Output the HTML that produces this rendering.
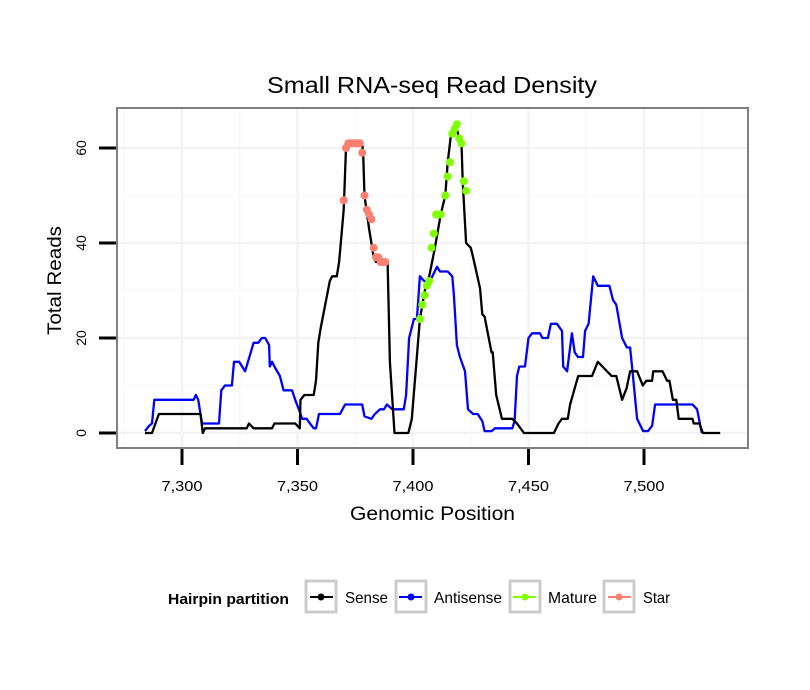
<!DOCTYPE html>
<html><head><meta charset="utf-8"><style>
body{margin:0;background:#fff}
svg{display:block;font-family:"Liberation Sans",sans-serif}
</style></head><body>
<svg id="chart" width="810" height="690" viewBox="0 0 810 690">
<rect width="810" height="690" fill="#fff"/>
<text x="267" y="93" font-size="23" textLength="330" lengthAdjust="spacingAndGlyphs">Small RNA-seq Read Density</text>
<g id="grid"></g>
<g id="series"></g>
<rect x="117" y="108" width="631" height="340" fill="none" stroke="#808080" stroke-width="2"/>
<g id="axes"></g>
<text x="350" y="520" font-size="19" textLength="165" lengthAdjust="spacingAndGlyphs">Genomic Position</text>
<text transform="translate(61,335) rotate(-90)" font-size="19" textLength="109" lengthAdjust="spacingAndGlyphs">Total Reads</text>
<g>
<text x="168" y="604" font-size="15" font-weight="bold" textLength="121" lengthAdjust="spacingAndGlyphs">Hairpin partition</text>
<g>
<rect x="306" y="581" width="30" height="31" fill="#fff" stroke="#ccc" stroke-width="3"/>
<line x1="310" y1="597" x2="333" y2="597" stroke="#000" stroke-width="2"/><circle cx="321" cy="597" r="3.5" fill="#000"/>
<text x="345" y="603" font-size="16" textLength="43" lengthAdjust="spacingAndGlyphs">Sense</text></g>
<g>
<rect x="396" y="581" width="30" height="31" fill="#fff" stroke="#ccc" stroke-width="3"/>
<line x1="399" y1="597" x2="422" y2="597" stroke="#00f" stroke-width="2"/><circle cx="411" cy="597" r="3.5" fill="#00f"/>
<text x="434" y="603" font-size="16" textLength="68" lengthAdjust="spacingAndGlyphs">Antisense</text></g>
<g>
<rect x="510" y="581" width="30" height="31" fill="#fff" stroke="#ccc" stroke-width="3"/>
<line x1="513" y1="597" x2="536" y2="597" stroke="#7fff00" stroke-width="2"/><circle cx="525" cy="597" r="3.5" fill="#7fff00"/>
<text x="548" y="603" font-size="16" textLength="49" lengthAdjust="spacingAndGlyphs">Mature</text></g>
<g>
<rect x="604" y="581" width="30" height="31" fill="#fff" stroke="#ccc" stroke-width="3"/>
<line x1="608" y1="597" x2="631" y2="597" stroke="#fa8072" stroke-width="2"/><circle cx="619" cy="597" r="3.5" fill="#fa8072"/>
<text x="643" y="603" font-size="16" textLength="27" lengthAdjust="spacingAndGlyphs">Star</text></g>
</g>
</svg>
<script>
const xTicks=[7300,7350,7400,7450,7500];
const xTickLabels=["7,300","7,350","7,400","7,450","7,500"];
const xMinor=[7275,7325,7375,7425,7475,7525];
const yTicks=[0,20,40,60];
const yMinor=[10,30,50];
const senseX=[7284,7287,7290,7308,7309,7310,7328,7329,7331,7339,7340,7349,7351,7351.3,7353,7357,7358,7359,7360,7362,7364,7365,7367,7368,7370,7371,7371.5,7378,7378.5,7379,7381,7383,7384,7389,7390,7392,7398,7399.5,7401,7403,7405.5,7407,7409.5,7412,7414,7415,7416.5,7418.5,7420,7421,7421.5,7423,7425,7426,7429,7430,7431,7434,7434.5,7436,7438,7438.5,7443,7445,7448,7461,7463,7464.5,7467,7468,7471.5,7477.5,7480,7482,7484,7486,7488,7490.5,7492.5,7494,7497,7499.5,7501,7503.5,7504,7508,7510,7511,7512.5,7514,7515,7521,7521.5,7524,7525.5,7533];
const senseY=[0,0,4,4,0,1,1,2,1,1,2,2,1,7,8,8,11,19,22,27,32,33,33,36,47,60,61,61,58,50,43,37,36,36,15,0,0,3,12,24,31,33,39,46,50,57,63,65,62,61,53,40,39,37,30.5,25,24.5,17,17,8,4,3,3,2,0,0,2,3,3,6,12,12,15,14,13,12,12,7,9.5,13,13,10,11,11,13,13,11,11,7,7,3,3,2,2,0,0];
const antiX=[7284,7285.7,7287,7288,7305,7306,7307,7308.7,7316,7317,7318.6,7321.6,7322.5,7324.7,7327.3,7331,7333,7334.6,7336,7337.7,7338,7339,7340,7342.4,7344,7347.6,7349,7350.6,7352,7354,7355.4,7357,7358,7359.3,7368.4,7370.6,7378,7379,7382,7383.5,7385.7,7387.4,7388.7,7391,7396,7397,7398.3,7400.4,7401.7,7403,7404.8,7407.4,7410.4,7411.7,7415,7417,7417.7,7419,7420.3,7422.5,7423.8,7426,7428,7430,7431,7434,7435.5,7443,7444,7445,7446,7448.5,7450,7451.5,7455,7456,7458.4,7459.7,7462.3,7464.5,7465,7466.7,7468.8,7470,7471.4,7473.6,7474.5,7476,7478,7480,7485,7486.6,7488,7490.5,7492.6,7494,7495,7497,7499.6,7501.7,7503.5,7504.8,7521,7523,7525];
const antiY=[0.4,1.5,2,7,7,8,7,2,2,9,10,10,15,15,13,19,19,20,20,18.5,14,15,14,12,9,9,7,5,3,3,2,1,1,4,4,6,6,3.5,3,4,5,5,6,5,5,8,20,24,24,33,32,32,35,34,34,33,29,18.5,16,13,5,4,4,2.5,0.4,0.4,1,1,2.5,12,14,14,20,21,21,20,20,23,23,21.5,14,13,21,17,16,16,21.5,23,33,31,31,28,27,20,18,18,13,3,0.4,0.4,1.5,6,6,5,0];
const starX=[7370,7371,7372,7373,7374,7375,7376,7377,7378,7379,7380,7381,7382,7383,7384,7385,7386,7387,7388];
const starY=[49,60,61,61,61,61,61,61,59,50,47,46,45,39,37,37,36,36,36];
const matureX=[7403,7404,7405,7406,7407,7408,7409,7410,7411,7412,7414,7415,7416,7417,7418,7419,7420,7421,7422,7423];
const matureY=[24,27,29,31,32,39,42,46,46,46,50,54,57,63,64,65,62,61,53,51];

const NS="http://www.w3.org/2000/svg";
function sx(v){return 182+(v-7300)*2.31;}
function sy(v){return 433-v*4.75;}
function mk(tag,attrs,parent){const e=document.createElementNS(NS,tag);for(const k in attrs)e.setAttribute(k,attrs[k]);parent.appendChild(e);return e;}
const grid=document.getElementById('grid'),ser=document.getElementById('series'),axes=document.getElementById('axes');
xMinor.forEach(v=>{const l=mk('line',{x1:sx(v),x2:sx(v),y1:109,y2:447,stroke:'#fafafa','stroke-width':1.5},grid);

});
yMinor.forEach(v=>{const l=mk('line',{x1:118,x2:747,y1:sy(v),y2:sy(v),stroke:'#fafafa','stroke-width':1.5},grid);

});
xTicks.forEach((v,i)=>{const l=mk('line',{x1:sx(v),x2:sx(v),y1:109,y2:447,stroke:'#f3f3f3','stroke-width':2.5},grid);


const t=mk('line',{x1:sx(v),x2:sx(v),y1:449,y2:465,stroke:'#000','stroke-width':3},axes);


const tx=mk('text',{x:sx(v)-20.5,y:491,'font-size':15,textLength:41,lengthAdjust:'spacingAndGlyphs'},axes);tx.textContent=xTickLabels[i];

});
yTicks.forEach(v=>{const l=mk('line',{x1:118,x2:747,y1:sy(v),y2:sy(v),stroke:'#f3f3f3','stroke-width':2.5},grid);


const t=mk('line',{x1:99,x2:116,y1:sy(v),y2:sy(v),stroke:'#000','stroke-width':3},axes);


const tx=mk('text',{transform:`translate(86,${sy(v)}) rotate(-90)`,'font-size':14,'text-anchor':'middle'},axes);tx.textContent=String(v);

});
function line(xs,ys,col,name){const d=xs.map((x,i)=>(i?'L':'M')+sx(x).toFixed(1)+','+sy(ys[i]).toFixed(1)).join('');
const p=mk('path',{d:d,fill:'none',stroke:col,'stroke-width':2.3,'stroke-linejoin':'round'},ser);

}
line(antiX,antiY,'#00f','antisense-line');
line(senseX,senseY,'#000','sense-line');
function pts(xs,ys,col,name){xs.forEach((x,i)=>{const c=mk('circle',{cx:sx(x),cy:sy(ys[i]),r:4,fill:col},ser);

});}
pts(starX,starY,'#fa8072','star-point');
pts(matureX,matureY,'#7fff00','mature-point');
</script>
</body></html>
